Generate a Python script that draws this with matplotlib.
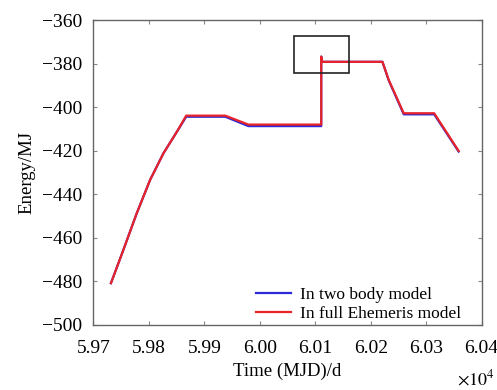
import matplotlib
matplotlib.use("Agg")
import matplotlib.pyplot as plt
from matplotlib.patches import Rectangle
from matplotlib.ticker import FuncFormatter

plt.rcParams['font.family'] = ['Liberation Serif', 'DejaVu Serif']
plt.rcParams['mathtext.fontset'] = 'stix'

# Time (MJD) and energy (MJ)
t_full = [59731.6, 59753.9, 59778.1, 59802.2, 59826.2, 59850.5, 59867.3,
          59937.8, 59979.4, 60110.8, 60110.8, 60112.5, 60221.2,
          60232.5, 60259.6, 60314.5, 60358.6]
e_full = [-480.8, -465.6, -448.7, -433.4, -421.2, -411.3, -403.9,
          -403.9, -408.0, -408.0, -376.8, -379.2, -379.2,
          -387.5, -402.8, -402.8, -420.1]

t_two = [59731.6, 59753.9, 59778.1, 59802.2, 59826.2, 59850.5, 59867.3,
         59937.8, 59979.4, 60110.8, 60110.8, 60112.5, 60221.2,
         60232.5, 60259.6, 60314.5, 60358.6]
e_two = [-480.8, -465.6, -448.7, -433.4, -421.2, -411.3, -404.4,
         -404.4, -408.7, -408.7, -376.8, -379.2, -379.2,
         -387.7, -403.3, -403.3, -420.4]

# zoom box (MJD, MJ)
box_t = [60061, 60160]
box_e = [-384.2, -367.3]

xticks = [59700, 59800, 59900, 60000, 60100, 60200, 60300, 60400]
yticks = [-500, -480, -460, -440, -420, -400, -380, -360]

fig = plt.figure(figsize=(4.97, 3.90), dpi=100)
ax = fig.add_axes([0.188, 0.1667, 0.781, 0.782])

ax.plot(t_two, e_two, color='#2a2ad8', lw=1.6, label='In two body model')
ax.plot(t_full, e_full, color='#e8242a', lw=1.6, label='In full Ehemeris model')

ax.add_patch(Rectangle((box_t[0], box_e[0]), box_t[1] - box_t[0], box_e[1] - box_e[0],
                       fill=False, edgecolor='#222222', lw=1.2, zorder=5))

ax.set_xlim(59700, 60400)
ax.set_ylim(-500, -360)
ax.set_xticks(xticks)
ax.set_yticks(yticks)
ax.xaxis.set_major_formatter(FuncFormatter(lambda v, p: f"{v/1e4:.2f}"))
ax.yaxis.set_major_formatter(FuncFormatter(lambda v, p: f"\u2212{abs(int(v))}" if v < 0 else f"{int(v)}"))

ax.tick_params(direction='in', length=3, width=0.8, color='#888888',
               top=True, right=True, labelsize=14)
ax.tick_params(axis='x', pad=11)
ax.tick_params(axis='y', pad=8)
for s in ax.spines.values():
    s.set_color('#666666')
    s.set_linewidth(1.0)

ax.set_xlabel('Time (MJD)/d', fontsize=13.5, labelpad=4)
ax.set_ylabel('Energy/MJ', fontsize=13.5, labelpad=5)

ax.text(1.035, -0.145, r'$\times10^4$', transform=ax.transAxes, fontsize=13,
        ha='right', va='top')

leg = ax.legend(loc='center left', bbox_to_anchor=(0.402, 0.068), frameon=False,
                fontsize=12.5, handlelength=2.0, handletextpad=0.5,
                labelspacing=0.15, borderaxespad=0)

fig.savefig('out.png', dpi=100)
